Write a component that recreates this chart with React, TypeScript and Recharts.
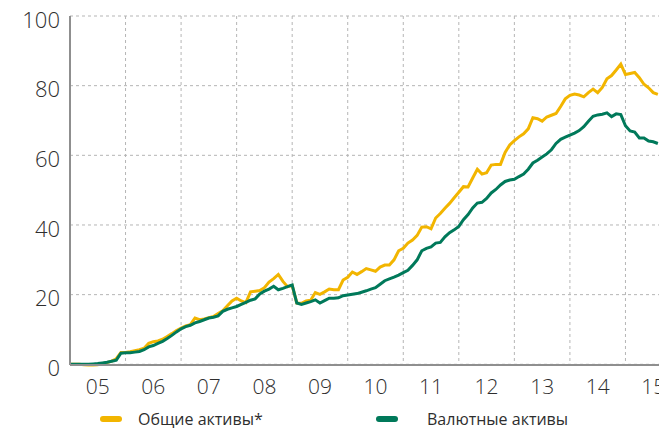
import { LineChart, Line, XAxis, YAxis, CartesianGrid } from 'recharts';

// monthly, Jan 2005 .. Aug 2015
const startYear = 2005;
const yearBounds = [2005, 2006, 2007, 2008, 2009, 2010, 2011, 2012, 2013, 2014, 2015, 2016];
const yearLabels = ['05', '06', '07', '08', '09', '10', '11', '12', '13', '14', '15'];
const yTicks = [0, 20, 40, 60, 80, 100];

const totalAssets = [
  0, 0, 0, -0.1, -0.2, -0.2, -0.1, 0.2, 0.5, 0.9, 1.6, 3.4,
  3.4, 3.6, 3.9, 4.2, 4.6, 6.0, 6.5, 6.7, 7.2, 8.0, 8.8, 9.7,
  10.4, 11.0, 11.4, 13.3, 12.8, 13.0, 13.4, 13.7, 14.6, 15.4, 16.8, 18.2,
  19.0, 18.2, 17.7, 20.8, 21.0, 21.2, 22.0, 23.6, 24.6, 25.8, 23.8, 22.3,
  22.6, 17.6, 17.5, 18.2, 18.4, 20.6, 20.1, 20.8, 21.6, 21.4, 21.4, 24.2,
  25.0, 26.5, 25.8, 26.6, 27.5, 27.1, 26.7, 27.9, 28.5, 28.5, 30.0, 32.6,
  33.3, 34.8, 35.7, 37.0, 39.4, 39.5, 38.9, 42.0, 43.3, 44.8, 46.2, 47.8,
  49.4, 51.0, 50.9, 53.5, 56.0, 54.6, 55.0, 57.2, 57.4, 57.4, 60.8, 63.0,
  64.2, 65.3, 66.2, 67.6, 70.8, 70.5, 69.8, 71.0, 71.5, 72.0, 74.0, 76.2,
  77.2, 77.6, 77.3, 76.8, 78.0, 79.0, 78.0, 79.5, 82.0, 82.9, 84.5, 86.2,
  83.2, 83.5, 83.8, 82.3, 80.4, 79.4, 78.0, 77.5,
];

const currencyAssets = [
  0, 0, 0, 0, 0, 0.1, 0.2, 0.4, 0.6, 0.9, 1.2, 3.2,
  3.3, 3.3, 3.5, 3.7, 4.2, 5.0, 5.4, 6.0, 6.6, 7.4, 8.3, 9.3,
  10.2, 10.8, 11.2, 11.9, 12.3, 12.8, 13.3, 13.5, 13.9, 15.2, 15.8, 16.2,
  16.6, 17.2, 17.8, 18.4, 18.8, 20.2, 21.0, 21.6, 22.4, 21.4, 21.8, 22.3,
  22.8, 17.6, 17.2, 17.6, 18.0, 18.5, 17.6, 18.3, 19.0, 19.0, 19.1, 19.7,
  19.9, 20.1, 20.3, 20.7, 21.1, 21.6, 22.0, 23.0, 24.0, 24.5, 25.0, 25.6,
  26.3, 27.0, 28.4, 30.0, 32.6, 33.3, 33.7, 34.8, 35.0, 36.6, 37.8, 38.6,
  39.6, 41.5, 43.0, 44.9, 46.3, 46.5, 47.6, 49.2, 50.2, 51.5, 52.5, 52.9,
  53.1, 53.9, 54.6, 56.0, 57.8, 58.6, 59.5, 60.4, 61.6, 63.4, 64.6, 65.2,
  65.8, 66.4, 67.1, 68.2, 69.8, 71.2, 71.6, 71.8, 72.2, 71.1, 71.9, 71.7,
  68.5, 67.0, 66.7, 65.0, 65.0, 64.1, 63.9, 63.4,
];

const data = totalAssets.map((v, i) => ({
  t: startYear + i / 12,
  total: v,
  currency: currencyAssets[i],
}));

const xDomain = [yearBounds[0], yearBounds[yearBounds.length - 1]];
const labelTicks = yearLabels.map((_, i) => startYear + i + 0.5);

const YELLOW = '#F2B500';
const GREEN = '#00795A';
const AXIS = '#8f8f8f';
const TEXT = '#2e2e2e';
const FONT = '"Open Sans", "Noto Sans", sans-serif';

// vertical grid at year boundaries (labels sit between them)
const yearGrid = ({ offset }: any) => {
  const span = xDomain[1] - xDomain[0];
  return yearBounds.map((y) => offset.left + ((y - xDomain[0]) / span) * offset.width);
};

function LegendItem({ color, label, left, textLeft }: { color: string; label: string; left: number; textLeft: number }) {
  return (
    <>
      <div
        style={{
          position: 'absolute',
          left,
          top: 416,
          width: 22,
          height: 6,
          borderRadius: 3,
          background: color,
        }}
      />
      <div
        style={{
          position: 'absolute',
          left: textLeft,
          top: 408,
          fontSize: 16,
          color: TEXT,
          fontFamily: FONT,
          whiteSpace: 'nowrap',
        }}
      >
        {label}
      </div>
    </>
  );
}

export default function App() {
  return (
    <div
      style={{
        position: 'fixed',
        left: 0,
        top: 0,
        width: 659,
        height: 432,
        overflow: 'hidden',
        background: '#fff',
        fontFamily: FONT,
      }}
    >
      <LineChart width={690} height={400} data={data} margin={{ top: 16, right: 9, bottom: 5, left: 0 }}>
        <CartesianGrid stroke="#b5b5b5" strokeDasharray="3 3" verticalCoordinatesGenerator={yearGrid} />
        <XAxis
          dataKey="t"
          type="number"
          domain={xDomain}
          ticks={labelTicks}
          interval={0}
          tickFormatter={(v: number) => yearLabels[Math.floor(v) - startYear]}
          tickLine={false}
          tickSize={0}
          tickMargin={14}
          height={30}
          axisLine={{ stroke: AXIS, strokeWidth: 2 }}
          tick={{ fontSize: 21, fill: TEXT, fontWeight: 300 }}
        />
        <YAxis
          domain={[0, 100]}
          ticks={yTicks}
          interval={0}
          width={70}
          tickLine={false}
          tickSize={0}
          tickMargin={10}
          axisLine={{ stroke: AXIS, strokeWidth: 2 }}
          tick={{ fontSize: 22, fill: TEXT, fontWeight: 300, dy: 4 }}
        />
        <Line type="linear" dataKey="total" stroke={YELLOW} strokeWidth={3} dot={false} isAnimationActive={false} />
        <Line type="linear" dataKey="currency" stroke={GREEN} strokeWidth={3} dot={false} isAnimationActive={false} />
      </LineChart>
      <LegendItem color={YELLOW} label="Общие активы*" left={100} textLeft={138} />
      <LegendItem color={GREEN} label="Валютные активы" left={376} textLeft={427} />
    </div>
  );
}
